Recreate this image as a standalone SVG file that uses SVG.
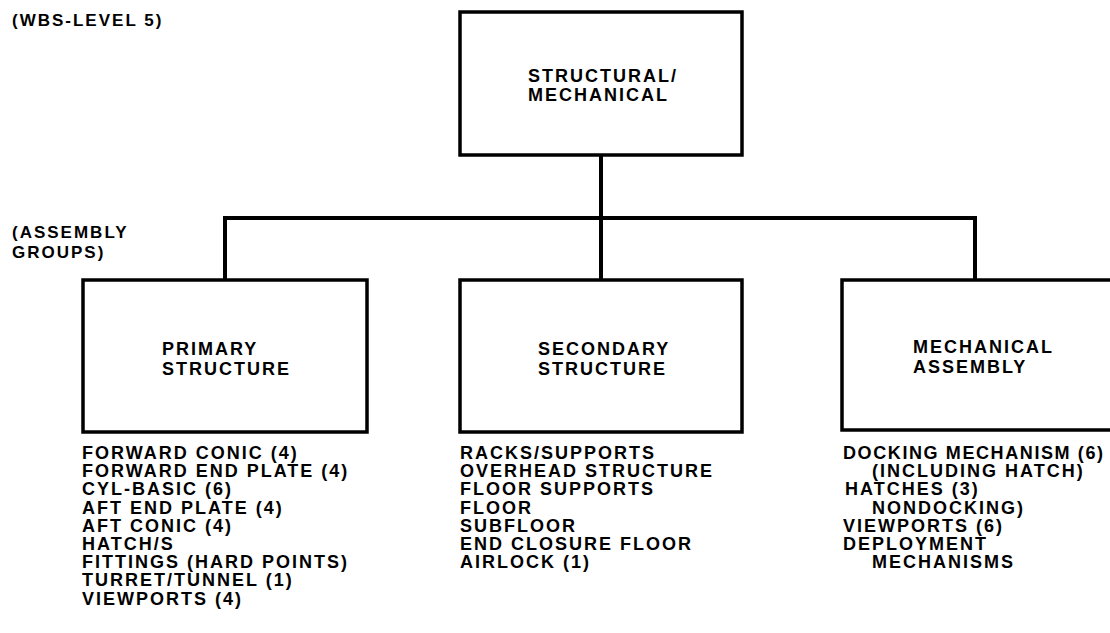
<svg xmlns="http://www.w3.org/2000/svg" width="1110" height="633" viewBox="0 0 1110 633">
<style>
  .box{fill:#fff;stroke:#000;stroke-width:3.5}
  .con{fill:none;stroke:#000;stroke-width:4;stroke-linecap:square}
  text{font-family:"Liberation Sans",Arial,Helvetica,sans-serif;font-weight:bold;font-size:18px;letter-spacing:2px;fill:#000}
  .hdr{font-size:17px;letter-spacing:2px}
</style>
<rect width="1110" height="633" fill="#fff"/>
<g id="labels">
  <text class="hdr" x="12" y="26">(WBS-LEVEL 5)</text>
  <text class="hdr" x="12" y="238">(ASSEMBLY</text>
  <text class="hdr" x="12" y="258">GROUPS)</text>
</g>
<g id="connectors">
  <path class="con" d="M601 155 V280"/>
  <path class="con" d="M225 218 H975"/>
  <path class="con" d="M225 218 V280"/>
  <path class="con" d="M975 218 V280"/>
</g>
<g id="top">
  <rect class="box" x="460" y="12" width="282" height="143"/>
  <text x="528" y="82">STRUCTURAL/</text>
  <text x="528" y="101">MECHANICAL</text>
</g>
<g id="primary">
  <rect class="box" x="83" y="280" width="284" height="152"/>
  <text x="162" y="355">PRIMARY</text>
  <text x="162" y="375">STRUCTURE</text>
  <text x="82" y="459">FORWARD CONIC (4)</text>
  <text x="82" y="477.2">FORWARD END PLATE (4)</text>
  <text x="82" y="495.4">CYL-BASIC (6)</text>
  <text x="82" y="513.6">AFT END PLATE (4)</text>
  <text x="82" y="531.8">AFT CONIC (4)</text>
  <text x="82" y="550">HATCH/S</text>
  <text x="82" y="568.2">FITTINGS (HARD POINTS)</text>
  <text x="82" y="586.4">TURRET/TUNNEL (1)</text>
  <text x="82" y="604.6">VIEWPORTS (4)</text>
</g>
<g id="secondary">
  <rect class="box" x="460" y="280" width="282" height="152"/>
  <text x="538" y="355">SECONDARY</text>
  <text x="538" y="375">STRUCTURE</text>
  <text x="460" y="459">RACKS/SUPPORTS</text>
  <text x="460" y="477.2">OVERHEAD STRUCTURE</text>
  <text x="460" y="495.4">FLOOR SUPPORTS</text>
  <text x="460" y="513.6">FLOOR</text>
  <text x="460" y="531.8">SUBFLOOR</text>
  <text x="460" y="550">END CLOSURE FLOOR</text>
  <text x="460" y="568.2">AIRLOCK (1)</text>
</g>
<g id="mechanical">
  <rect class="box" x="842" y="280" width="280" height="150"/>
  <text x="913" y="353">MECHANICAL</text>
  <text x="913" y="373">ASSEMBLY</text>
  <text x="843" y="459" style="letter-spacing:1.6px">DOCKING MECHANISM (6)</text>
  <text x="872" y="477.2">(INCLUDING HATCH)</text>
  <text x="845" y="495.4">HATCHES (3)</text>
  <text x="872" y="513.6">NONDOCKING)</text>
  <text x="843" y="531.8">VIEWPORTS (6)</text>
  <text x="843" y="550">DEPLOYMENT</text>
  <text x="872" y="568.2">MECHANISMS</text>
</g>
</svg>
